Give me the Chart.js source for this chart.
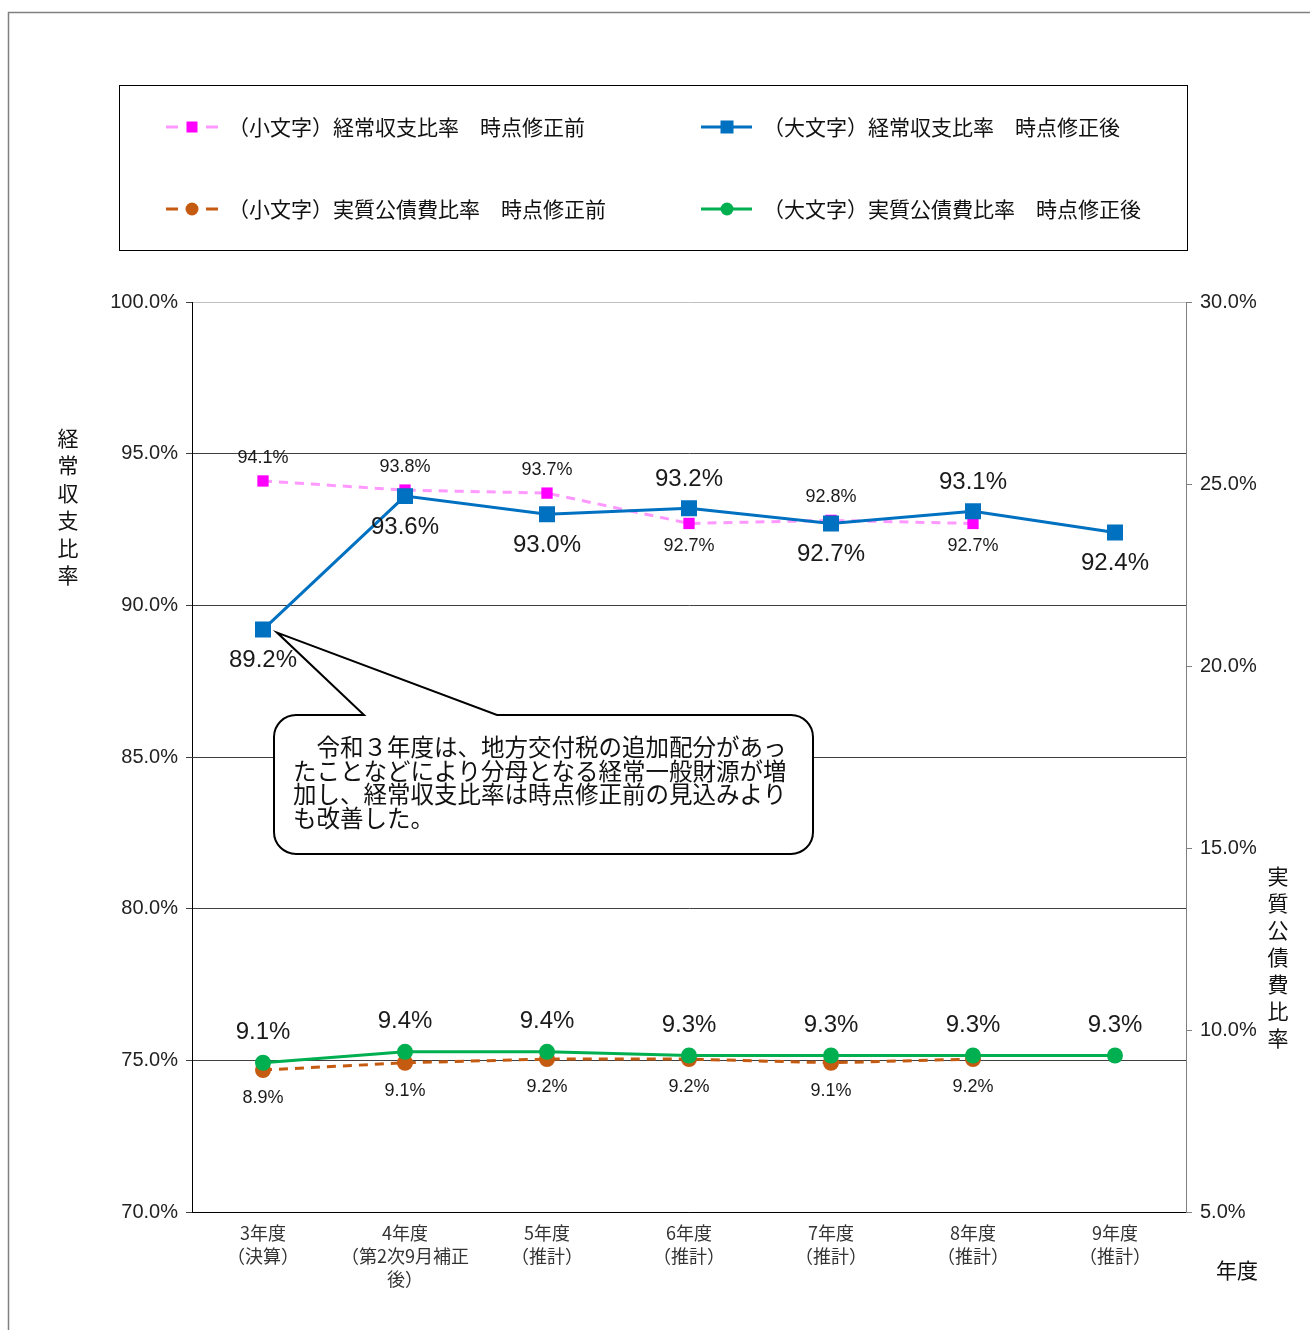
<!DOCTYPE html>
<html lang="ja">
<head>
<meta charset="utf-8">
<title>経常収支比率・実質公債費比率の推移</title>
<script src="https://cdn.jsdelivr.net/npm/chart.js@4.4.1/dist/chart.umd.min.js"></script>
<style>
  html, body { margin: 0; padding: 0; background: #fff; }
  #wrap { width: 1310px; height: 1330px; }
</style>
</head>
<body>
<div id="wrap"><canvas id="ratioChart" width="1310" height="1330"></canvas></div>
<script>
// --- DATA ---
const fiscalYears = [
    ['3年度', '（決算）'],
    ['4年度', '（第2次9月補正', '後）'],
    ['5年度', '（推計）'],
    ['6年度', '（推計）'],
    ['7年度', '（推計）'],
    ['8年度', '（推計）'],
    ['9年度', '（推計）']
];
// 経常収支比率 (left axis)
const keijoBefore = [94.1, 93.8, 93.7, 92.7, 92.8, 92.7, null];
const keijoAfter = [89.2, 93.6, 93.0, 93.2, 92.7, 93.1, 92.4];
// 実質公債費比率 (right axis)
const kosaiBefore = [8.9, 9.1, 9.2, 9.2, 9.1, 9.2, null];
const kosaiAfter = [9.1, 9.4, 9.4, 9.3, 9.3, 9.3, 9.3];

const leftTicks = [70, 75, 80, 85, 90, 95, 100];
const rightTicks = [5, 10, 15, 20, 25, 30];

const seriesNames = [
    '（小文字）経常収支比率　時点修正前',
    '（大文字）経常収支比率　時点修正後',
    '（小文字）実質公債費比率　時点修正前',
    '（大文字）実質公債費比率　時点修正後'
];

const calloutLines = [
    '　令和３年度は、地方交付税の追加配分があっ',
    'たことなどにより分母となる経常一般財源が増',
    '加し、経常収支比率は時点修正前の見込みより',
    'も改善した。'
];

// where each value label sits relative to its point
const keijoBeforePos = ['above', 'above', 'above', 'below', 'above', 'below', null];
const keijoAfterPos = ['below', 'below', 'below', 'above', 'below', 'above', 'below'];

const FONT = '"Liberation Sans", "Noto Sans CJK JP", sans-serif';
const JP_FONT = '"Noto Sans CJK JP", sans-serif';
const pct = v => v.toFixed(1) + '%';

// --- PLUGINS ---
const framePlugin = {
    id: 'frame',
    beforeDraw(chart) {
        const ctx = chart.ctx;
        ctx.save();
        ctx.fillStyle = '#fff';
        ctx.fillRect(0, 0, chart.width, chart.height);
        // outer frame
        ctx.strokeStyle = '#808080';
        ctx.lineWidth = 1.5;
        ctx.beginPath();
        ctx.moveTo(8.5, chart.height);
        ctx.lineTo(8.5, 12.5);
        ctx.lineTo(chart.width, 12.5);
        ctx.stroke();
        // legend box
        ctx.strokeStyle = '#000';
        ctx.lineWidth = 1;
        ctx.strokeRect(119.5, 85.5, 1068, 165);

        const slots = [[166, 127], [701, 127], [166, 209], [701, 209]];
        chart.data.datasets.forEach((ds, i) => {
            const [x0, y] = slots[i];
            ctx.strokeStyle = ds.borderColor;
            ctx.lineWidth = 3;
            ctx.beginPath();
            if (ds.borderDash) {
                ctx.moveTo(x0, y); ctx.lineTo(x0 + 12, y);
                ctx.moveTo(x0 + 40, y); ctx.lineTo(x0 + 52, y);
            } else {
                ctx.moveTo(x0, y); ctx.lineTo(x0 + 51, y);
            }
            ctx.stroke();
            ctx.fillStyle = ds.pointBackgroundColor;
            if (ds.pointStyle === 'rect') {
                const s = ds.legendMarker;
                ctx.fillRect(x0 + 26 - s / 2, y - s / 2, s, s);
            } else {
                ctx.beginPath();
                ctx.arc(x0 + 26, y, ds.legendMarker / 2, 0, Math.PI * 2);
                ctx.fill();
            }
            ctx.fillStyle = '#111';
            ctx.font = '21px ' + JP_FONT;
            ctx.textBaseline = 'middle';
            ctx.textAlign = 'left';
            ctx.fillText(ds.label, x0 + 62, y);
        });
        ctx.restore();
    },
    afterDraw(chart) {
        const ctx = chart.ctx;
        ctx.save();
        ctx.fillStyle = '#111';
        ctx.font = '21px ' + JP_FONT;
        ctx.textAlign = 'center';
        ctx.textBaseline = 'middle';
        Array.from('経常収支比率').forEach((ch, i) => ctx.fillText(ch, 68, 438 + i * 27.4));
        Array.from('実質公債費比率').forEach((ch, i) => ctx.fillText(ch, 1278, 876 + i * 27));
        ctx.fillText('年度', 1237, 1270);
        ctx.restore();
    }
};

function drawCallout(chart) {
    const ctx = chart.ctx;
    const pt = chart.getDatasetMeta(1).data[0];
    const ax = pt.x + 14, ay = pt.y + 3;
    const l = 274, t = 715, r = 813, b = 854, rad = 22;
    ctx.save();
    ctx.beginPath();
    ctx.moveTo(l + rad, t);
    ctx.lineTo(364, t);
    ctx.lineTo(ax, ay);
    ctx.lineTo(497, t);
    ctx.lineTo(r - rad, t);
    ctx.arcTo(r, t, r, t + rad, rad);
    ctx.lineTo(r, b - rad);
    ctx.arcTo(r, b, r - rad, b, rad);
    ctx.lineTo(l + rad, b);
    ctx.arcTo(l, b, l, b - rad, rad);
    ctx.lineTo(l, t + rad);
    ctx.arcTo(l, t, l + rad, t, rad);
    ctx.closePath();
    ctx.fillStyle = '#fff';
    ctx.fill();
    ctx.strokeStyle = '#000';
    ctx.lineWidth = 2;
    ctx.stroke();
    ctx.fillStyle = '#111';
    ctx.font = '23.5px ' + JP_FONT;
    ctx.textAlign = 'left';
    ctx.textBaseline = 'middle';
    calloutLines.forEach((line, i) => ctx.fillText(line, 293, 747 + i * 23.7));
    ctx.restore();
}

const valueLabelPlugin = {
    id: 'valueLabels',
    afterDatasetsDraw(chart) {
        drawCallout(chart);
        const ctx = chart.ctx;
        ctx.save();
        ctx.fillStyle = '#1a1a1a';
        ctx.textAlign = 'center';
        ctx.textBaseline = 'middle';
        chart.data.datasets.forEach((ds, i) => {
            const lab = ds.valueLabel;
            ctx.font = lab.size + 'px ' + FONT;
            chart.getDatasetMeta(i).data.forEach((pt, j) => {
                const v = ds.data[j];
                if (v == null) return;
                const dy = lab.pos[j] === 'above' ? -lab.up : lab.down;
                ctx.fillText(pct(v), pt.x, pt.y + dy);
            });
        });
        ctx.restore();
    }
};

// --- CHART ---
function renderRatioChart() {
    const ctx = document.getElementById('ratioChart').getContext('2d');
    new Chart(ctx, {
        type: 'line',
        data: {
            labels: fiscalYears,
            datasets: [
                {
                    label: seriesNames[0], data: keijoBefore, yAxisID: 'y', order: 3,
                    borderColor: '#ff99ff', borderWidth: 3, borderDash: [9, 7],
                    pointStyle: 'rect', pointRadius: 8, pointBorderWidth: 0,
                    pointBackgroundColor: '#ff00ff', legendMarker: 11,
                    valueLabel: { size: 18, pos: keijoBeforePos, up: 23, down: 23 }
                },
                {
                    label: seriesNames[1], data: keijoAfter, yAxisID: 'y', order: 1,
                    borderColor: '#0070c0', borderWidth: 3,
                    pointStyle: 'rect', pointRadius: 11.3, pointBorderWidth: 0,
                    pointBackgroundColor: '#0070c0', legendMarker: 13,
                    valueLabel: { size: 24, pos: keijoAfterPos, up: 29, down: 31 }
                },
                {
                    label: seriesNames[2], data: kosaiBefore, yAxisID: 'y2', order: 4,
                    borderColor: '#c55a11', borderWidth: 3, borderDash: [9, 7],
                    pointStyle: 'circle', pointRadius: 8, pointBorderWidth: 0,
                    pointBackgroundColor: '#c55a11', legendMarker: 13,
                    valueLabel: { size: 18, pos: kosaiBefore.map(() => 'below'), up: 0, down: 28 }
                },
                {
                    label: seriesNames[3], data: kosaiAfter, yAxisID: 'y2', order: 2,
                    borderColor: '#00b050', borderWidth: 3,
                    pointStyle: 'circle', pointRadius: 8, pointBorderWidth: 0,
                    pointBackgroundColor: '#00b050', legendMarker: 13,
                    valueLabel: { size: 24, pos: kosaiAfter.map(() => 'above'), up: 30, down: 0 }
                }
            ]
        },
        options: {
            responsive: false,
            animation: false,
            events: [],
            devicePixelRatio: 1,
            layout: { padding: { top: 302, left: 0, right: 0, bottom: 0 } },
            elements: { line: { tension: 0 } },
            plugins: { legend: { display: false }, tooltip: { enabled: false } },
            scales: {
                x: {
                    offset: true,
                    grid: { display: false, drawTicks: false },
                    border: { display: true, color: '#000', width: 1 },
                    ticks: { color: '#333', padding: 10, font: { family: JP_FONT, size: 18, lineHeight: 1.28 } },
                    afterFit: s => { s.height = 118; }
                },
                y: {
                    position: 'left',
                    min: 70, max: 100,
                    afterBuildTicks: s => { s.ticks = leftTicks.map(v => ({ value: v })); },
                    grid: {
                        color: c => (c.tick && c.tick.value === 100 ? '#c0c0c0' : '#404040'),
                        lineWidth: 1, tickLength: 6, tickColor: '#404040'
                    },
                    border: { color: '#000', width: 1 },
                    ticks: { color: '#222', padding: 8, font: { family: FONT, size: 20 }, callback: v => pct(v) },
                    afterFit: s => { s.width = 192; }
                },
                y2: {
                    position: 'right',
                    min: 5, max: 30,
                    afterBuildTicks: s => { s.ticks = rightTicks.map(v => ({ value: v })); },
                    grid: { drawOnChartArea: false, tickLength: 6, tickColor: '#808080' },
                    border: { color: '#808080', width: 1 },
                    ticks: { color: '#222', padding: 8, font: { family: FONT, size: 20 }, callback: v => pct(v) },
                    afterFit: s => { s.width = 124; }
                }
            }
        },
        plugins: [framePlugin, valueLabelPlugin]
    });
}

document.addEventListener('DOMContentLoaded', renderRatioChart);
</script>
</body>
</html>
